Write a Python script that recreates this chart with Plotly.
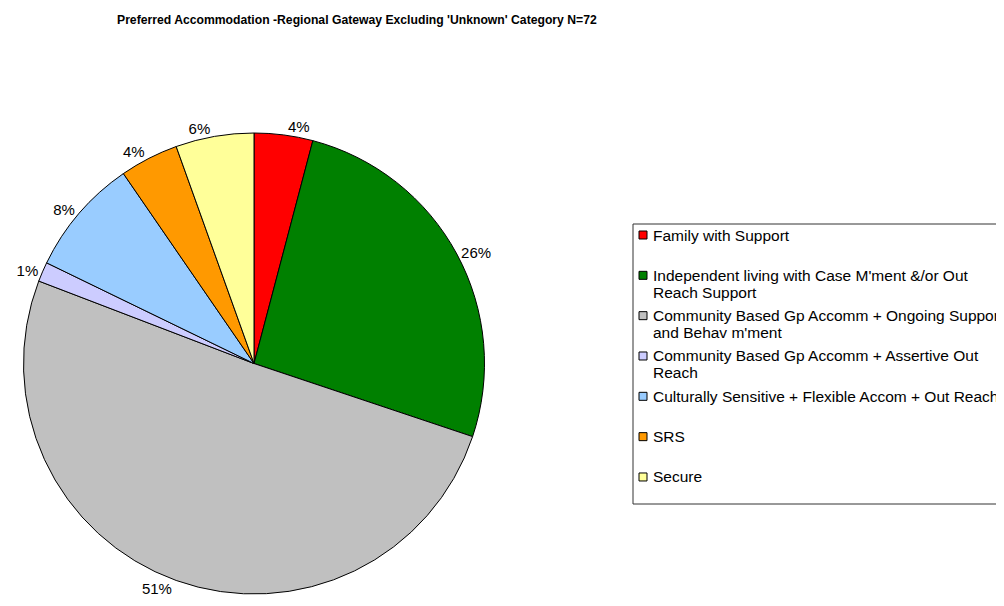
import plotly.graph_objects as go

# ---- data ----
categories = [
    "Family with Support",
    "Independent living with Case M'ment &/or Out<br>Reach Support",
    "Community Based Gp Accomm + Ongoing Support<br>and Behav m'ment",
    "Community Based Gp Accomm + Assertive Out<br>Reach",
    "Culturally Sensitive + Flexible Accom + Out Reach",
    "SRS",
    "Secure",
]
counts = [3, 19, 37, 1, 6, 3, 4]
pct_labels = ["4%", "26%", "51%", "1%", "8%", "4%", "6%"]
colors = ["#FF0000", "#008000", "#C0C0C0", "#CCCCFF", "#99CCFF", "#FF9900", "#FFFF99"]
title_text = "Preferred Accommodation -Regional Gateway Excluding 'Unknown' Category N=72"

W, H = 1004, 606
OFF = 8  # page body margin offset


def px(x):
    return (x - OFF) / W


def py(y):
    return 1 - (y - OFF) / H


# pie geometry (window pixels)
cx, cy, r = 254, 363.5, 230.5

fig = go.Figure()
fig.add_trace(go.Pie(
    labels=[c.replace("<br>", " ") for c in categories],
    values=counts,
    text=pct_labels,
    textinfo="text",
    textposition="outside",
    sort=False,
    direction="clockwise",
    rotation=0,
    marker=dict(colors=colors, line=dict(color="#000000", width=1)),
    outsidetextfont=dict(family="Arial, Liberation Sans, sans-serif", size=15, color="#000000"),
    domain=dict(x=[px(cx - r), px(cx + r)], y=[py(cy + r), py(cy - r)]),
    showlegend=False,
    hoverinfo="label+value+text",
))

shapes = []
annotations = []

# legend box
shapes.append(dict(type="rect", xref="paper", yref="paper",
                   x0=px(633), x1=px(1020), y0=py(504), y1=py(224),
                   line=dict(color="#333333", width=1), fillcolor="rgba(0,0,0,0)"))

y0, step, line_h = 235, 40.33, 17
for i, (lab, col) in enumerate(zip(categories, colors)):
    yc = y0 + i * step
    shapes.append(dict(type="rect", xref="paper", yref="paper",
                       x0=px(639), x1=px(647), y0=py(yc + 4), y1=py(yc - 4),
                       line=dict(color="#000000", width=1), fillcolor=col))
    for j, part in enumerate(lab.split("<br>")):
        annotations.append(dict(
            x=px(651), y=py(yc + j * line_h), xref="paper", yref="paper",
            xanchor="left", yanchor="middle", text=part, showarrow=False,
            font=dict(family="Arial, Liberation Sans, sans-serif", size=15.5, color="#000000"),
        ))

# title
annotations.append(dict(
    x=px(357), y=py(20), xref="paper", yref="paper", xanchor="center", yanchor="middle",
    text="<b>" + title_text + "</b>", showarrow=False,
    font=dict(family="Arial, Liberation Sans, sans-serif", size=12.2, color="#000000"),
))

fig.update_layout(
    width=W, height=H,
    margin=dict(l=0, r=0, t=0, b=0),
    paper_bgcolor="#FFFFFF",
    plot_bgcolor="#FFFFFF",
    shapes=shapes,
    annotations=annotations,
)

fig.write_html("out.html")
